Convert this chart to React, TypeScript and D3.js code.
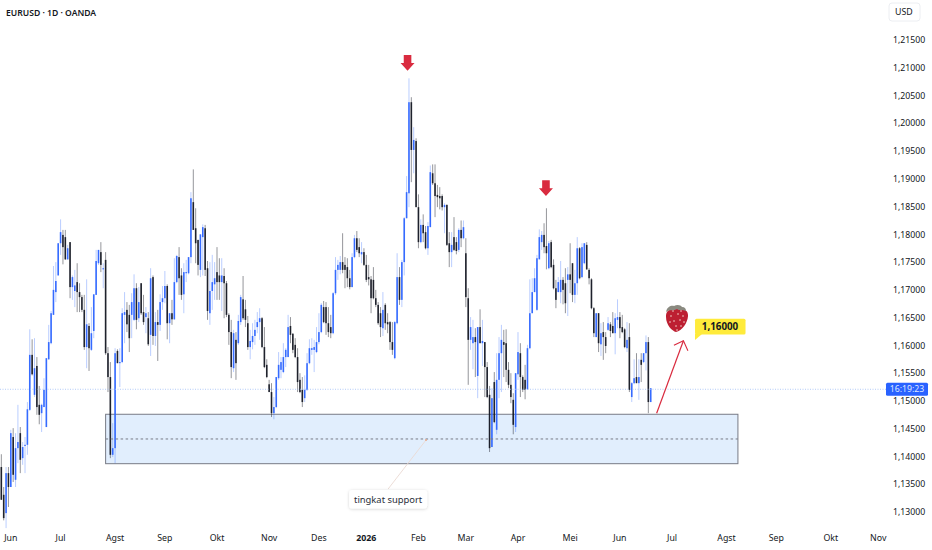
import React from "react";
import * as d3 from "d3";

const opens = [1.1381,1.1331,1.1298,1.1370,1.1345,1.1435,1.1358,1.1415,1.1442,1.1397,1.1419,1.1421,1.1484,1.1583,1.1511,1.1563,1.1493,1.1478,1.1489,1.1453,1.1575,1.1604,1.1655,1.1696,1.1726,1.1784,1.1799,1.1795,1.1755,1.1786,1.1705,1.1698,1.1714,1.1696,1.1687,1.1664,1.1597,1.1635,1.1592,1.1626,1.1691,1.1748,1.1768,1.1737,1.1754,1.1586,1.1543,1.1403,1.1415,1.1590,1.1568,1.1570,1.1655,1.1664,1.1655,1.1655,1.1646,1.1703,1.1649,1.1712,1.1660,1.1651,1.1649,1.1619,1.1723,1.1617,1.1642,1.1637,1.1678,1.1685,1.1707,1.1640,1.1658,1.1647,1.1714,1.1759,1.1726,1.1692,1.1730,1.1730,1.1759,1.1858,1.1811,1.1790,1.1736,1.1795,1.1811,1.1739,1.1658,1.1698,1.1710,1.1732,1.1726,1.1714,1.1725,1.1712,1.1655,1.1624,1.1559,1.1610,1.1604,1.1642,1.1683,1.1665,1.1640,1.1597,1.1606,1.1617,1.1633,1.1642,1.1649,1.1597,1.1565,1.1530,1.1516,1.1478,1.1489,1.1541,1.1556,1.1552,1.1579,1.1579,1.1635,1.1621,1.1601,1.1579,1.1538,1.1520,1.1505,1.1520,1.1568,1.1592,1.1592,1.1588,1.1606,1.1624,1.1669,1.1669,1.1640,1.1633,1.1622,1.1694,1.1736,1.1736,1.1750,1.1745,1.1741,1.1721,1.1705,1.1759,1.1793,1.1777,1.1764,1.1768,1.1745,1.1723,1.1719,1.1718,1.1685,1.1673,1.1658,1.1631,1.1673,1.1642,1.1642,1.1606,1.1577,1.1640,1.1723,1.1682,1.1750,1.1829,1.1874,1.2038,1.1952,1.1968,1.1849,1.1786,1.1817,1.1804,1.1775,1.1813,1.1910,1.1892,1.1871,1.1869,1.1869,1.1849,1.1853,1.1784,1.1768,1.1795,1.1786,1.1772,1.1808,1.1793,1.1766,1.1685,1.1610,1.1604,1.1615,1.1545,1.1633,1.1604,1.1606,1.1561,1.1511,1.1417,1.1534,1.1448,1.1538,1.1586,1.1606,1.1604,1.1556,1.1529,1.1502,1.1453,1.1548,1.1586,1.1543,1.1538,1.1521,1.1595,1.1658,1.1696,1.1664,1.1755,1.1786,1.1799,1.1779,1.1739,1.1786,1.1745,1.1703,1.1696,1.1696,1.1718,1.1712,1.1718,1.1728,1.1748,1.1691,1.1712,1.1775,1.1723,1.1748,1.1781,1.1736,1.1719,1.1667,1.1615,1.1658,1.1602,1.1624,1.1615,1.1628,1.1638,1.1635,1.1622,1.1646,1.1651,1.1633,1.1629,1.1595,1.1615,1.1507,1.1532,1.1543,1.1532,1.1574,1.1570,1.1586,1.1606,1.1498];
const highs = [1.1404,1.1345,1.1381,1.1381,1.1448,1.1451,1.1442,1.1493,1.1453,1.1426,1.1435,1.1498,1.1629,1.1611,1.1613,1.1579,1.1527,1.1495,1.1541,1.1577,1.1637,1.1662,1.1743,1.1750,1.1784,1.1827,1.1808,1.1808,1.1781,1.1786,1.1726,1.1736,1.1748,1.1712,1.1691,1.1691,1.1719,1.1640,1.1669,1.1692,1.1772,1.1772,1.1786,1.1748,1.1768,1.1597,1.1570,1.1460,1.1595,1.1593,1.1595,1.1667,1.1696,1.1678,1.1673,1.1694,1.1728,1.1712,1.1705,1.1712,1.1691,1.1669,1.1660,1.1739,1.1726,1.1660,1.1664,1.1692,1.1707,1.1734,1.1710,1.1658,1.1682,1.1757,1.1763,1.1777,1.1739,1.1748,1.1754,1.1759,1.1876,1.1917,1.1847,1.1790,1.1800,1.1818,1.1817,1.1752,1.1750,1.1763,1.1750,1.1777,1.1757,1.1757,1.1739,1.1716,1.1658,1.1646,1.1628,1.1624,1.1655,1.1691,1.1725,1.1682,1.1653,1.1628,1.1640,1.1646,1.1660,1.1667,1.1651,1.1633,1.1575,1.1538,1.1532,1.1507,1.1543,1.1588,1.1579,1.1604,1.1595,1.1655,1.1651,1.1622,1.1613,1.1595,1.1550,1.1543,1.1546,1.1586,1.1611,1.1613,1.1610,1.1633,1.1658,1.1676,1.1680,1.1678,1.1669,1.1655,1.1696,1.1759,1.1754,1.1761,1.1802,1.1759,1.1757,1.1736,1.1766,1.1799,1.1806,1.1793,1.1786,1.1775,1.1763,1.1745,1.1725,1.1741,1.1700,1.1678,1.1669,1.1696,1.1676,1.1658,1.1644,1.1642,1.1644,1.1766,1.1741,1.1754,1.1831,1.1905,1.2081,1.2047,1.1993,1.1973,1.1872,1.1827,1.1836,1.1815,1.1822,1.1924,1.1926,1.1926,1.1889,1.1885,1.1872,1.1856,1.1854,1.1804,1.1804,1.1831,1.1795,1.1811,1.1825,1.1825,1.1793,1.1703,1.1651,1.1646,1.1631,1.1633,1.1665,1.1646,1.1606,1.1570,1.1527,1.1523,1.1552,1.1586,1.1615,1.1637,1.1628,1.1629,1.1570,1.1550,1.1514,1.1550,1.1624,1.1604,1.1546,1.1565,1.1601,1.1719,1.1721,1.1739,1.1763,1.1809,1.1806,1.1820,1.1847,1.1788,1.1790,1.1755,1.1718,1.1723,1.1752,1.1723,1.1739,1.1741,1.1784,1.1748,1.1736,1.1795,1.1777,1.1784,1.1784,1.1786,1.1739,1.1721,1.1669,1.1658,1.1658,1.1640,1.1642,1.1624,1.1651,1.1642,1.1660,1.1658,1.1683,1.1660,1.1655,1.1631,1.1642,1.1640,1.1534,1.1575,1.1586,1.1575,1.1586,1.1586,1.1618,1.1615,1.1523];
const lows = [1.1322,1.1285,1.1271,1.1309,1.1345,1.1354,1.1345,1.1388,1.1370,1.1385,1.1370,1.1403,1.1482,1.1546,1.1507,1.1475,1.1458,1.1444,1.1489,1.1453,1.1574,1.1602,1.1655,1.1678,1.1726,1.1763,1.1746,1.1754,1.1754,1.1685,1.1682,1.1669,1.1660,1.1660,1.1660,1.1592,1.1559,1.1554,1.1590,1.1613,1.1691,1.1745,1.1732,1.1703,1.1583,1.1516,1.1397,1.1399,1.1388,1.1568,1.1525,1.1568,1.1604,1.1624,1.1588,1.1613,1.1644,1.1629,1.1642,1.1655,1.1637,1.1622,1.1599,1.1581,1.1601,1.1599,1.1572,1.1626,1.1664,1.1676,1.1611,1.1604,1.1637,1.1646,1.1712,1.1691,1.1682,1.1658,1.1714,1.1728,1.1748,1.1808,1.1748,1.1726,1.1723,1.1726,1.1725,1.1646,1.1637,1.1664,1.1682,1.1682,1.1682,1.1662,1.1649,1.1651,1.1601,1.1541,1.1552,1.1538,1.1601,1.1637,1.1646,1.1633,1.1592,1.1575,1.1593,1.1601,1.1622,1.1610,1.1595,1.1559,1.1541,1.1516,1.1471,1.1467,1.1487,1.1538,1.1541,1.1550,1.1561,1.1579,1.1604,1.1586,1.1577,1.1516,1.1514,1.1489,1.1498,1.1518,1.1566,1.1583,1.1552,1.1586,1.1602,1.1622,1.1640,1.1619,1.1615,1.1613,1.1620,1.1691,1.1718,1.1728,1.1730,1.1703,1.1705,1.1701,1.1705,1.1757,1.1768,1.1759,1.1748,1.1743,1.1714,1.1708,1.1658,1.1683,1.1669,1.1637,1.1615,1.1617,1.1628,1.1622,1.1592,1.1583,1.1575,1.1638,1.1673,1.1669,1.1726,1.1829,1.1849,1.1894,1.1910,1.1849,1.1775,1.1784,1.1786,1.1773,1.1763,1.1813,1.1889,1.1831,1.1849,1.1845,1.1843,1.1802,1.1779,1.1741,1.1741,1.1770,1.1764,1.1768,1.1777,1.1791,1.1669,1.1529,1.1592,1.1557,1.1543,1.1505,1.1604,1.1563,1.1507,1.1505,1.1408,1.1417,1.1460,1.1440,1.1505,1.1516,1.1543,1.1534,1.1523,1.1496,1.1440,1.1444,1.1538,1.1507,1.1516,1.1503,1.1520,1.1593,1.1658,1.1696,1.1662,1.1755,1.1772,1.1766,1.1737,1.1737,1.1739,1.1701,1.1667,1.1696,1.1676,1.1674,1.1658,1.1653,1.1694,1.1678,1.1676,1.1691,1.1719,1.1721,1.1746,1.1736,1.1710,1.1665,1.1615,1.1615,1.1588,1.1581,1.1574,1.1586,1.1626,1.1615,1.1622,1.1584,1.1631,1.1613,1.1622,1.1595,1.1588,1.1516,1.1498,1.1530,1.1532,1.1502,1.1534,1.1568,1.1555,1.1478,1.1498];
const closes = [1.1322,1.1289,1.1370,1.1345,1.1442,1.1367,1.1415,1.1426,1.1394,1.1417,1.1421,1.1485,1.1583,1.1548,1.1559,1.1489,1.1475,1.1493,1.1520,1.1577,1.1606,1.1658,1.1700,1.1716,1.1784,1.1804,1.1777,1.1755,1.1775,1.1705,1.1723,1.1708,1.1696,1.1687,1.1664,1.1597,1.1638,1.1595,1.1622,1.1692,1.1752,1.1772,1.1745,1.1739,1.1586,1.1543,1.1403,1.1415,1.1586,1.1568,1.1570,1.1658,1.1660,1.1638,1.1613,1.1678,1.1703,1.1646,1.1678,1.1658,1.1642,1.1658,1.1602,1.1721,1.1617,1.1642,1.1637,1.1678,1.1685,1.1707,1.1640,1.1658,1.1647,1.1714,1.1761,1.1721,1.1691,1.1732,1.1732,1.1759,1.1865,1.1808,1.1784,1.1745,1.1800,1.1813,1.1736,1.1662,1.1698,1.1714,1.1721,1.1714,1.1714,1.1726,1.1712,1.1655,1.1624,1.1561,1.1622,1.1568,1.1644,1.1687,1.1649,1.1646,1.1597,1.1608,1.1617,1.1628,1.1642,1.1649,1.1597,1.1561,1.1543,1.1516,1.1478,1.1489,1.1543,1.1565,1.1570,1.1579,1.1592,1.1633,1.1619,1.1592,1.1579,1.1534,1.1516,1.1498,1.1520,1.1568,1.1595,1.1595,1.1597,1.1606,1.1624,1.1673,1.1642,1.1640,1.1624,1.1622,1.1694,1.1736,1.1745,1.1750,1.1736,1.1736,1.1721,1.1705,1.1759,1.1793,1.1772,1.1766,1.1768,1.1745,1.1718,1.1719,1.1685,1.1685,1.1673,1.1640,1.1633,1.1664,1.1640,1.1638,1.1606,1.1592,1.1642,1.1723,1.1682,1.1750,1.1829,1.1876,1.2038,1.1952,1.1970,1.1849,1.1786,1.1817,1.1802,1.1775,1.1815,1.1912,1.1892,1.1869,1.1867,1.1865,1.1849,1.1853,1.1781,1.1768,1.1781,1.1772,1.1770,1.1808,1.1793,1.1813,1.1687,1.1610,1.1633,1.1615,1.1606,1.1633,1.1604,1.1608,1.1561,1.1507,1.1415,1.1505,1.1462,1.1538,1.1586,1.1610,1.1601,1.1556,1.1529,1.1507,1.1457,1.1550,1.1588,1.1543,1.1520,1.1520,1.1595,1.1658,1.1696,1.1721,1.1757,1.1795,1.1799,1.1777,1.1766,1.1784,1.1741,1.1703,1.1682,1.1714,1.1718,1.1700,1.1676,1.1728,1.1718,1.1691,1.1712,1.1775,1.1721,1.1777,1.1784,1.1737,1.1721,1.1667,1.1622,1.1658,1.1604,1.1622,1.1615,1.1599,1.1640,1.1626,1.1622,1.1649,1.1651,1.1631,1.1624,1.1597,1.1610,1.1520,1.1532,1.1541,1.1532,1.1543,1.1565,1.1586,1.1606,1.1498,1.1523];

const priceTicks = [1.215,1.21,1.205,1.2,1.195,1.19,1.185,1.18,1.175,1.17,1.165,1.16,1.155,1.15,1.145,1.14,1.135,1.13];
const monthLabels = ["Jun","Jul","Agst","Sep","Okt","Nov","Des","2026","Feb","Mar","Apr","Mei","Jun","Jul","Agst","Sep","Okt","Nov"];
const monthBars = [4,25,48,69,91,113,134,154,176,196,218,240,261,283,306,327,350,370];

const supportTop = 1.1476;
const supportBottom = 1.1387;
const supportMid = 1.14315;
const lastPrice = 1.1521;
const targetPrice = 1.16;

const width = 932;
const height = 550;
const axisX = 886;
const fontFamily = "'Noto Sans', sans-serif";

const blue = "#2962ff";
const dark = "#131722";

const x = d3.scaleLinear().domain([0, 100]).range([1.33, 238.33]);
const y = d3.scaleLinear().domain([1.13, 1.215]).range([512, 40]);
const formatPrice = (v: number) => d3.format(".5f")(v).replace(".", ",");

// red marker pointing down at a peak, drawn from its tip
const DownArrow = ({ bar, price }: { bar: number; price: number }) => {
  const tx = x(bar);
  const ty = y(price);
  const pts: [number, number][] = [
    [tx, ty],
    [tx - 7, ty - 7.7],
    [tx - 3.8, ty - 7.7],
    [tx - 3.8, ty - 15.7],
    [tx + 3.8, ty - 15.7],
    [tx + 3.8, ty - 7.7],
    [tx + 7, ty - 7.7],
  ];
  return <path d={d3.line()(pts) + "Z"} fill="#d92b3f" />;
};

const seeds: [number, number][] = [[-6,-3],[1,-5],[6,-3],[-3,2],[3,1],[-7,3],[7,3],[-1,7],[4,7],[0,11],[-4,-8],[4,-8]];

const Strawberry = ({ bar, price }: { bar: number; price: number }) => (
  <g transform={`translate(${x(bar)},${y(price)})`}>
    <path d="M-1,13 C-5,12 -11,6 -11,-2 C-11.5,-9 -6,-11 0,-10.5 C6,-11 11.5,-9 11,-3 C10.5,4 5,12 -1,13Z" fill="#bd1f32" />
    <path d="M-11,-7 C-10,-13 -5,-14 -3,-13 C0,-15 4,-14 5,-12 C8,-12 9,-10 9,-8 C5,-10 2,-8 0,-10 C-3,-8 -7,-10 -11,-7Z" fill="#8a8a80" />
    {seeds.map((s, i) => (
      <circle key={i} cx={s[0]} cy={s[1]} r={0.8} fill="#f3d9d0" />
    ))}
  </g>
);

const App = () => {
  const tipX = x(287.8);
  const tipY = y(1.16085);
  const calloutX = x(292.7);
  const calloutY = y(targetPrice);
  const labelX = x(163.2);
  const labelY = y(1.13234);
  const boxLeft = x(44);
  const boxRight = x(310.8);
  return (
    <svg
      width={width}
      height={height}
      style={{ position: "absolute", left: 0, top: 0, background: "#fff", fontFamily }}
    >
      <rect
        x={boxLeft}
        y={y(supportTop)}
        width={boxRight - boxLeft}
        height={y(supportBottom) - y(supportTop)}
        fill="#e1eefd"
        stroke="#787b86"
        strokeWidth={1}
      />

      {opens.map((o, i) => {
        const c = closes[i];
        const color = c >= o ? blue : dark;
        const top = y(Math.max(o, c));
        const bottom = y(Math.min(o, c));
        return (
          <g key={i}>
            <line
              x1={x(i)}
              x2={x(i)}
              y1={y(highs[i])}
              y2={y(lows[i])}
              stroke={color}
              strokeOpacity={c >= o ? 0.32 : 0.45}
              strokeWidth={1}
            />
            <rect x={x(i) - 0.8} y={top} width={1.6} height={Math.max(bottom - top, 0.8)} fill={color} fillOpacity={0.92} />
          </g>
        );
      })}

      <line x1={boxLeft} x2={boxRight} y1={y(supportMid)} y2={y(supportMid)} stroke="#787b86" strokeDasharray="2.5 2.5" />
      <line x1={0} x2={axisX} y1={y(lastPrice)} y2={y(lastPrice)} stroke="#9fbcf5" strokeWidth={0.8} strokeDasharray="1 1.5" />

      <DownArrow bar={171.4} price={1.20947} />
      <DownArrow bar={229.8} price={1.18691} />

      <line x1={x(276.5)} y1={y(1.14777)} x2={tipX} y2={tipY} stroke="#d92b3f" strokeWidth={1.2} />
      <path
        d={`M${tipX - 9.5},${tipY + 4.5}L${tipX},${tipY}L${tipX + 4.5},${tipY + 10}`}
        fill="none"
        stroke="#d92b3f"
        strokeWidth={1.1}
      />
      <Strawberry bar={285.1} price={1.16476} />

      <path d={`M${calloutX},${calloutY - 5.5}L${calloutX + 7},${calloutY - 11.5}L${calloutX},${calloutY - 11.5}Z`} fill="#ffeb3b" />
      <rect x={calloutX} y={calloutY - 26.6} width={50.5} height={15.6} rx={1.5} fill="#ffeb3b" />
      <text x={calloutX + 25} y={calloutY - 15.2} textAnchor="middle" fontSize={9.8} fontWeight={700} fill="#131722">
        {formatPrice(targetPrice)}
      </text>

      <line x1={labelX} y1={labelY - 10} x2={x(179.2)} y2={y(1.14297)} stroke="#ead9d2" strokeWidth={0.9} />
      <circle cx={x(179.2)} cy={y(1.14297)} r={1} fill="#e8a98c" />
      <defs>
        <filter id="labelShadow" x="-20%" y="-30%" width="140%" height="170%">
          <feDropShadow dx={0} dy={0.6} stdDeviation={1.4} floodColor="#000" floodOpacity={0.18} />
        </filter>
      </defs>
      <rect x={labelX - 39} y={labelY - 9} width={78} height={18.5} rx={3} fill="#fff" filter="url(#labelShadow)" />
      <text x={labelX} y={labelY + 3.5} textAnchor="middle" fontSize={9.4} fill="#2a2e39">
        tingkat support
      </text>

      <text x={6} y={15.5} fontSize={8.6} fontWeight={600} fill="#131722">
        EURUSD · 1D · OANDA
      </text>

      <rect x={889} y={3} width={31} height={18} rx={3} fill="#fff" stroke="#eceef2" />
      <text x={895} y={15} fontSize={8.8} fill="#131722">
        USD
      </text>

      {priceTicks.map((t) => (
        <text key={t} x={893} y={y(t) + 3.2} fontSize={8.7} fill="#131722">
          {formatPrice(t)}
        </text>
      ))}

      <rect x={axisX} y={y(lastPrice) - 6.5} width={42} height={13} rx={1.5} fill={blue} />
      <text x={axisX + 21} y={y(lastPrice) + 3.2} textAnchor="middle" fontSize={8.7} fill="#dfe7ff">
        16:19:23
      </text>

      {monthLabels.map((m, i) => (
        <text
          key={i}
          x={x(monthBars[i])}
          y={541}
          textAnchor="middle"
          fontSize={8.8}
          fontWeight={m === "2026" ? 700 : 400}
          fill="#131722"
        >
          {m}
        </text>
      ))}
    </svg>
  );
};

export default App;
